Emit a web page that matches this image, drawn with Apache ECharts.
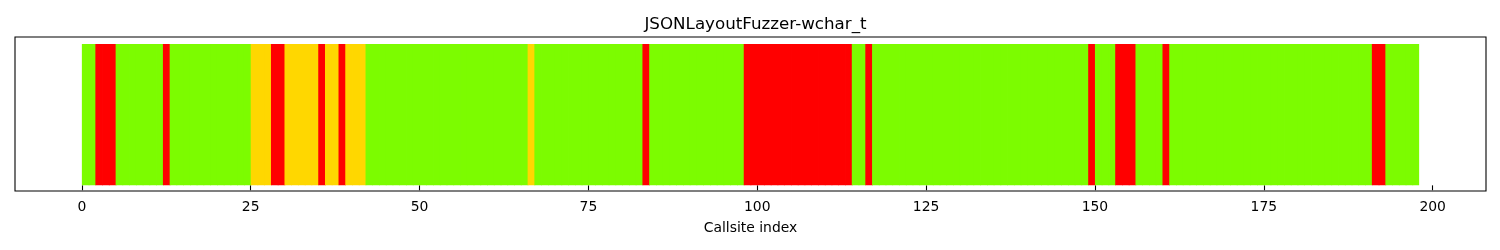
<!DOCTYPE html>
<html>
<head>
<meta charset="utf-8">
<script src="https://cdn.jsdelivr.net/npm/echarts@6/dist/echarts.min.js"></script>
<style>html,body{margin:0;padding:0;background:#fff}#c{width:1500px;height:250px}</style>
</head>
<body>
<div id="c"></div>
<script>
const title = 'JSONLayoutFuzzer-wchar_t';
const xLabel = 'Callsite index';
const xTicks = [0, 25, 50, 75, 100, 125, 150, 175, 200];
// status per callsite index 0..197 (G = green, Y = yellow, R = red)
const statusRows = [
  'GGRRRGGGGG', // 0-9
  'GGRGGGGGGG', // 10-19
  'GGGGGYYYRR', // 20-29
  'YYYYYRYYRY', // 30-39
  'YYGGGGGGGG', // 40-49
  'GGGGGGGGGG', // 50-59
  'GGGGGGYGGG', // 60-69
  'GGGGGGGGGG', // 70-79
  'GGGRGGGGGG', // 80-89
  'GGGGGGGGRR', // 90-99
  'RRRRRRRRRR', // 100-109
  'RRRRGGRGGG', // 110-119
  'GGGGGGGGGG', // 120-129
  'GGGGGGGGGG', // 130-139
  'GGGGGGGGGR', // 140-149
  'GGGRRRGGGG', // 150-159
  'RGGGGGGGGG', // 160-169
  'GGGGGGGGGG', // 170-179
  'GGGGGGGGGG', // 180-189
  'GRRGGGGG'    // 190-197
];
const statusColors = { G: '#7CFC00', Y: '#FFD700', R: '#FF0000' };

const status = statusRows.join('').split('');
const data = status.map((s, i) => [i, 1, s]);

const chart = echarts.init(document.getElementById('c'), null, { renderer: 'canvas' });
chart.setOption({
  animation: false,
  title: {
    text: title, left: 750.5, top: 11, textAlign: 'center',
    textStyle: { fontFamily: 'DejaVu Sans', fontSize: 16.7, fontWeight: 'normal', color: '#000' }
  },
  grid: { left: 15, top: 37, width: 1471, height: 154, show: true, borderColor: '#000', borderWidth: 1.1, backgroundColor: 'transparent' },
  xAxis: {
    type: 'value', min: -9.9, max: 207.9,
    name: xLabel, nameLocation: 'middle', nameGap: 30,
    nameTextStyle: { fontFamily: 'DejaVu Sans', fontSize: 13.9, color: '#000' },
    axisLine: { show: false },
    splitLine: { show: false },
    axisTick: { show: true, customValues: xTicks, length: 4.9, lineStyle: { color: '#000', width: 1.1 } },
    axisLabel: { show: true, customValues: xTicks, margin: 9, fontFamily: 'DejaVu Sans', fontSize: 13.9, color: '#000' }
  },
  yAxis: {
    type: 'value', min: -0.04, max: 1.05,
    show: false, splitLine: { show: false }
  },
  series: [{
    type: 'custom',
    data: data,
    encode: { x: 0, y: 1 },
    renderItem: function (params, api) {
      const i = api.value(0);
      const p0 = api.coord([i, 0]);
      const p1 = api.coord([i + 1, api.value(1)]);
      const c = statusColors[data[params.dataIndex][2]];
      const last = params.dataIndex === data.length - 1;
      return {
        type: 'rect',
        shape: { x: p0[0], y: p1[1], width: p1[0] - p0[0] + (last ? 0 : 0.8), height: p0[1] - p1[1] },
        style: { fill: c }
      };
    }
  }]
});
</script>
</body>
</html>
